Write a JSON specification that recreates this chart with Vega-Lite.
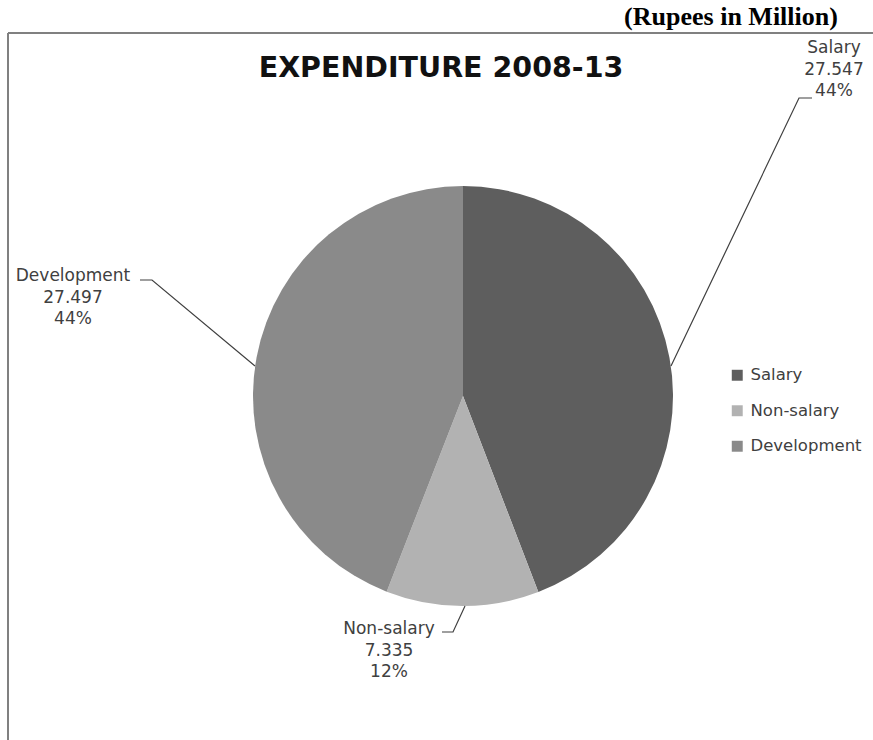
{
  "$schema": "https://vega.github.io/schema/vega-lite/v6.json",
  "width": 873,
  "height": 740,
  "autosize": {"type": "none"},
  "padding": 0,
  "background": "white",
  "config": {"view": {"stroke": null}},
  "layer": [
    {
      "data": {"values": [
        {"part": "left", "x": 8, "y": 33, "x2": 8, "y2": 740},
        {"part": "top", "x": 8, "y": 33, "x2": 873, "y2": 33}
      ]},
      "mark": {"type": "rule", "color": "#808080", "strokeWidth": 2},
      "encoding": {
        "x": {"field": "x", "type": "quantitative", "scale": {"domain": [0, 873], "nice": false, "zero": false}, "axis": null},
        "x2": {"field": "x2"},
        "y": {"field": "y", "type": "quantitative", "scale": {"domain": [0, 740], "nice": false, "zero": false, "reverse": true}, "axis": null},
        "y2": {"field": "y2"}
      }
    },
    {
      "data": {"values": [
        {"category": "Salary", "value": 27.547, "pct": "44%", "ord": 1},
        {"category": "Non-salary", "value": 7.335, "pct": "12%", "ord": 2},
        {"category": "Development", "value": 27.497, "pct": "44%", "ord": 3}
      ]},
      "mark": {"type": "arc", "radius": 210},
      "encoding": {
        "x": {"datum": 463, "type": "quantitative"},
        "y": {"datum": 396, "type": "quantitative"},
        "theta": {"field": "value", "type": "quantitative", "stack": true},
        "order": {"field": "ord", "type": "quantitative"},
        "color": {
          "field": "category",
          "type": "nominal",
          "scale": {"domain": ["Salary", "Non-salary", "Development"], "range": ["#5e5e5e", "#b2b2b2", "#8a8a8a"]},
          "legend": {
            "orient": "none",
            "legendX": 729,
            "legendY": 367,
            "direction": "vertical",
            "title": null,
            "symbolType": "square",
            "symbolSize": 120,
            "symbolStrokeWidth": 0,
            "labelFont": "DejaVu Sans",
            "labelFontSize": 16.5,
            "labelColor": "#404040",
            "labelOffset": 5,
            "rowPadding": 18.5,
            "padding": 0
          }
        }
      }
    },
    {
      "data": {"values": [
        {"category": "Salary", "seq": 1, "x": 812, "y": 98},
        {"category": "Salary", "seq": 2, "x": 799, "y": 98},
        {"category": "Salary", "seq": 3, "x": 671, "y": 366},
        {"category": "Development", "seq": 1, "x": 140, "y": 280},
        {"category": "Development", "seq": 2, "x": 152, "y": 280},
        {"category": "Development", "seq": 3, "x": 255, "y": 366},
        {"category": "Non-salary", "seq": 1, "x": 442, "y": 632},
        {"category": "Non-salary", "seq": 2, "x": 453, "y": 632},
        {"category": "Non-salary", "seq": 3, "x": 465, "y": 606}
      ]},
      "mark": {"type": "line", "color": "#404040", "strokeWidth": 1.2},
      "encoding": {
        "x": {"field": "x", "type": "quantitative"},
        "y": {"field": "y", "type": "quantitative"},
        "detail": {"field": "category"},
        "order": {"field": "seq", "type": "quantitative"}
      }
    },
    {
      "data": {"values": [
        {"label": "Salary\n27.547\n44%", "x": 834, "y": 53},
        {"label": "Development\n27.497\n44%", "x": 73, "y": 281},
        {"label": "Non-salary\n7.335\n12%", "x": 389, "y": 634}
      ]},
      "mark": {"type": "text", "font": "DejaVu Sans", "fontSize": 17, "color": "#404040", "align": "center", "baseline": "alphabetic", "lineBreak": "\n", "lineHeight": 21.5},
      "encoding": {
        "x": {"field": "x", "type": "quantitative"},
        "y": {"field": "y", "type": "quantitative"},
        "text": {"field": "label"}
      }
    },
    {
      "data": {"values": [{"label": "EXPENDITURE 2008-13", "x": 441, "y": 77}]},
      "mark": {"type": "text", "font": "DejaVu Sans", "fontWeight": "bold", "fontSize": 28.5, "color": "#111111", "align": "center", "baseline": "alphabetic"},
      "encoding": {
        "x": {"field": "x", "type": "quantitative"},
        "y": {"field": "y", "type": "quantitative"},
        "text": {"field": "label"}
      }
    },
    {
      "data": {"values": [{"label": "(Rupees in Million)", "x": 731, "y": 25}]},
      "mark": {"type": "text", "font": "Liberation Serif", "fontWeight": "bold", "fontSize": 26, "color": "#000000", "align": "center", "baseline": "alphabetic"},
      "encoding": {
        "x": {"field": "x", "type": "quantitative"},
        "y": {"field": "y", "type": "quantitative"},
        "text": {"field": "label"}
      }
    }
  ]
}
